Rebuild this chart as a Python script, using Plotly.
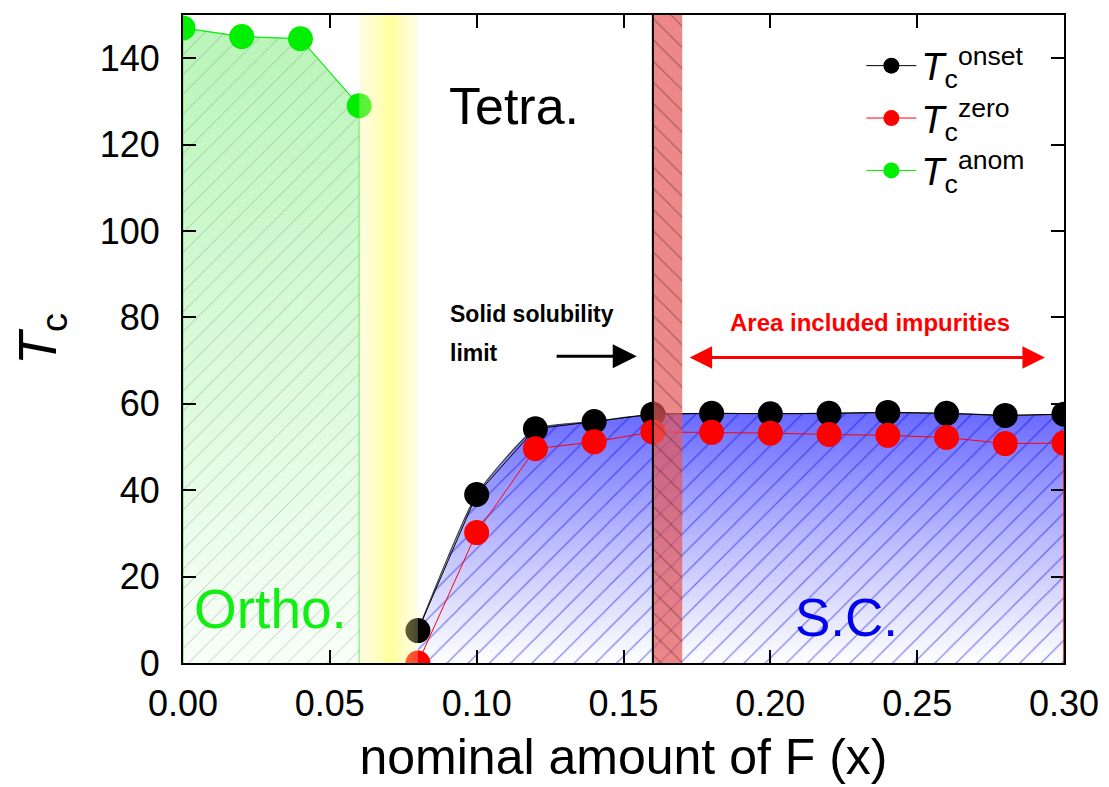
import plotly.graph_objects as go

# ---------------- data ----------------
x_anom = [0.00, 0.02, 0.04, 0.06]
tc_anom = [147.0, 145.0, 144.5, 129.0]

x_sc = [0.08, 0.10, 0.12, 0.14, 0.16, 0.18, 0.20, 0.22, 0.24, 0.26, 0.28, 0.30]
tc_onset = [7.5, 39.0, 54.2, 55.9, 57.6, 57.8, 57.7, 57.8, 58.0, 57.8, 57.3, 57.6]
tc_zero = [0.0, 30.2, 49.6, 51.2, 53.5, 53.4, 53.2, 52.9, 52.7, 52.2, 50.8, 50.9]

ortho_tetra_band = [0.06, 0.08]
impurity_band = [0.16, 0.17]
solubility_limit = 0.16
x_range = [0.0, 0.30]
y_range = [0.0, 150.0]

FONT = "Liberation Sans, Arial, sans-serif"

fig = go.Figure()

# green (orthorhombic) region
gx = [x_anom[0]] + x_anom + [x_anom[-1]]
gy = [0] + tc_anom + [0]
fig.add_trace(go.Scatter(
    x=gx, y=gy, mode="lines", fill="toself",
    line=dict(color="#66ee66", width=1.2),
    fillgradient=dict(type="vertical", start=0, stop=max(tc_anom),
                      colorscale=[[0, "rgb(248,255,248)"], [1, "rgb(185,245,185)"]]),
    showlegend=False, hoverinfo="skip"))
fig.add_trace(go.Scatter(
    x=gx, y=gy, mode="none", fill="toself", fillcolor="rgba(0,0,0,0)",
    fillpattern=dict(shape="/", fgcolor="rgba(100,100,100,0.7)",
                     bgcolor="rgba(0,0,0,0)", size=14, solidity=0.07),
    showlegend=False, hoverinfo="skip"))

# blue (superconducting) region
fig.add_trace(go.Scatter(
    x=x_sc, y=tc_onset, mode="lines", fill="tozeroy",
    line=dict(color="#444444", width=1.2, shape="spline", smoothing=0.5),
    fillgradient=dict(type="vertical", start=0, stop=max(tc_onset),
                      colorscale=[[0, "rgb(255,255,255)"], [0.5, "rgb(185,185,255)"],
                                  [1, "rgb(105,105,255)"]]),
    showlegend=False, hoverinfo="skip"))
fig.add_trace(go.Scatter(
    x=x_sc, y=tc_onset, mode="none", fill="tozeroy", fillcolor="rgba(0,0,0,0)",
    line=dict(shape="spline", smoothing=0.5),
    fillpattern=dict(shape="/", fgcolor="rgba(0,0,225,0.9)",
                     bgcolor="rgba(0,0,0,0)", size=15, solidity=0.09),
    showlegend=False, hoverinfo="skip"))

# data series
fig.add_trace(go.Scatter(
    x=x_sc, y=tc_onset, mode="lines+markers",
    name="<i>T</i><sub>c</sub><sup>onset</sup>",
    line=dict(color="black", width=1),
    marker=dict(color="black", size=25)))
fig.add_trace(go.Scatter(
    x=x_sc, y=tc_zero, mode="lines+markers",
    name="<i>T</i><sub>c</sub><sup>zero</sup>",
    line=dict(color="red", width=1),
    marker=dict(color="red", size=25)))
fig.add_trace(go.Scatter(
    x=x_anom, y=tc_anom, mode="lines+markers",
    name="<i>T</i><sub>c</sub><sup>anom</sup>",
    line=dict(color="#00ee00", width=1),
    marker=dict(color="#00ee00", size=25)))

# yellow boundary band
bx = [ortho_tetra_band[0], ortho_tetra_band[1], ortho_tetra_band[1], ortho_tetra_band[0], ortho_tetra_band[0]]
by = [y_range[0], y_range[0], y_range[1], y_range[1], y_range[0]]
fig.add_trace(go.Scatter(
    x=bx, y=by, mode="none", fill="toself",
    fillgradient=dict(type="horizontal",
                      colorscale=[[0, "rgba(255,248,170,0.32)"], [0.55, "rgba(255,255,50,0.5)"],
                                  [1, "rgba(255,248,170,0.28)"]]),
    showlegend=False, hoverinfo="skip"))

# red impurity band
rx = [impurity_band[0], impurity_band[1], impurity_band[1], impurity_band[0], impurity_band[0]]
fig.add_trace(go.Scatter(
    x=rx, y=by, mode="none", fill="toself", fillcolor="rgba(230,90,90,0.72)",
    fillpattern=dict(shape="\\", fgcolor="rgba(50,15,15,0.7)",
                     bgcolor="rgba(230,90,90,0.72)", size=15, solidity=0.08),
    showlegend=False, hoverinfo="skip"))

# vertical lines
fig.add_shape(type="line", x0=solubility_limit, x1=solubility_limit, y0=y_range[0], y1=y_range[1],
              xref="x", yref="y", line=dict(color="black", width=2), layer="above")
fig.add_shape(type="line", x0=x_sc[-1], x1=x_sc[-1], y0=0, y1=tc_zero[-1],
              xref="x", yref="y", line=dict(color="red", width=1.5), layer="above")

# texts
fig.add_annotation(x=0.09, y=129, text="Tetra.", showarrow=False, xanchor="left",
                   font=dict(family=FONT, size=52, color="black"))
fig.add_annotation(x=0.003, y=12.5, text="Ortho.", showarrow=False, xanchor="left",
                   font=dict(family=FONT, size=55, color="#11ee11"))
fig.add_annotation(x=0.226, y=10.5, text="S.C.", showarrow=False, xanchor="center",
                   font=dict(family=FONT, size=53, color="#0000ee"))
fig.add_annotation(x=0.0902, y=80.8, text="<b>Solid solubility</b>", showarrow=False, xanchor="left",
                   font=dict(family=FONT, size=23, color="black"))
fig.add_annotation(x=0.0902, y=71.8, text="<b>limit</b>", showarrow=False, xanchor="left",
                   font=dict(family=FONT, size=23, color="black"))
fig.add_annotation(x=0.234, y=78.8, text="<b>Area included impurities</b>", showarrow=False,
                   font=dict(family=FONT, size=24, color="red"))
# arrows
fig.add_annotation(x=0.1545, y=71.0, ax=0.1267, ay=71.0, axref="x", ayref="y", text="",
                   showarrow=True, arrowhead=2, arrowsize=1.6, arrowwidth=3, arrowcolor="black",
                   standoff=0, startstandoff=0)
fig.add_annotation(x=0.2935, y=70.7, ax=0.172, ay=70.7, axref="x", ayref="y", text="",
                   showarrow=True, arrowhead=2, startarrowhead=2, arrowside="end+start",
                   arrowsize=1.5, startarrowsize=1.5, arrowwidth=3, arrowcolor="red",
                   standoff=0, startstandoff=0)

axis_common = dict(showline=True, linecolor="black", linewidth=2, mirror="ticks",
                   ticks="inside", ticklen=13, tickwidth=2, tickcolor="black",
                   showgrid=False, zeroline=False,
                   tickfont=dict(family=FONT, size=36, color="black"))

fig.update_xaxes(range=x_range, dtick=0.05, tick0=0, tickformat=".2f",
                 title=dict(text="nominal amount of F (x)", standoff=16,
                            font=dict(family=FONT, size=50, color="black")),
                 ticklabelstandoff=8, **axis_common)
fig.update_yaxes(range=y_range, dtick=20, tick0=0,
                 title=dict(text="<i>T</i><sub>c</sub>", standoff=26,
                            font=dict(family=FONT, size=54, color="black")),
                 ticklabelstandoff=14, **axis_common)

fig.update_layout(
    width=1109, height=787,
    margin=dict(l=183, r=45, t=15, b=124, autoexpand=False),
    paper_bgcolor="white", plot_bgcolor="white",
    font=dict(family=FONT, color="black"),
    legend=dict(x=0.77, y=0.97, xanchor="left", yanchor="top",
                bgcolor="rgba(0,0,0,0)", borderwidth=0,
                font=dict(family=FONT, size=38, color="black"),
                itemsizing="trace", itemwidth=50, tracegroupgap=0),
)

fig.write_html("out.html")
